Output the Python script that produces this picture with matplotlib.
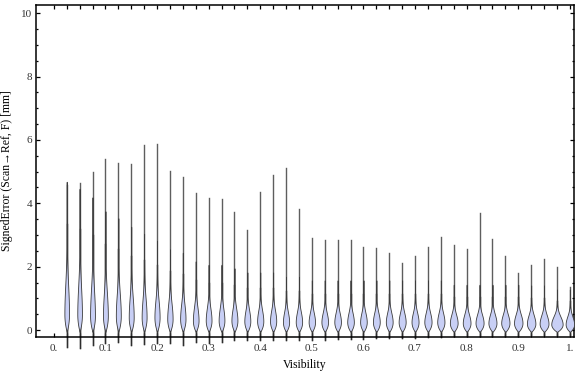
import numpy as np
import matplotlib
matplotlib.use("Agg")
import matplotlib.pyplot as plt
from matplotlib.patches import Rectangle

plt.rcParams['font.family'] = ['Liberation Serif', 'DejaVu Serif']

# visibility bins (violin centres)
visibility = [0.025, 0.05, 0.075, 0.1, 0.125, 0.15, 0.175, 0.2, 0.225, 0.25,
              0.275, 0.3, 0.325, 0.35, 0.375, 0.4, 0.425, 0.45, 0.475, 0.5,
              0.525, 0.55, 0.575, 0.6, 0.625, 0.65, 0.675, 0.7, 0.725, 0.75,
              0.775, 0.8, 0.825, 0.85, 0.875, 0.9, 0.925, 0.95, 0.975, 1.0]
# max / min signed error per bin
err_max = [4.58, 4.63, 5.00, 5.39, 5.26, 5.23, 5.84, 5.86, 5.03, 4.84,
           4.32, 4.16, 4.13, 3.72, 3.16, 4.35, 4.89, 5.10, 3.81, 2.91,
           2.84, 2.84, 2.84, 2.63, 2.58, 2.44, 2.13, 2.34, 2.61, 2.93,
           2.68, 2.55, 3.68, 2.87, 2.34, 1.79, 2.04, 2.25, 1.99, 1.37]
err_min = [-0.53, -0.58, -0.47, -0.42, -0.37, -0.47, -0.45, -0.42, -0.42, -0.47,
           -0.37, -0.42, -0.37, -0.32, -0.32, -0.32, -0.32, -0.30, -0.30, -0.30,
           -0.30, -0.28, -0.28, -0.28, -0.26, -0.26, -0.24, -0.24, -0.22, -0.22,
           -0.20, -0.20, -0.20, -0.18, -0.18, -0.18, -0.16, -0.16, -0.15, -0.15]
# density peak location, upward spread of the bulk, peak half width
err_mode = [0.50, 0.50, 0.45, 0.45, 0.45, 0.40, 0.40, 0.40, 0.35, 0.35,
            0.30, 0.30, 0.30, 0.30, 0.28, 0.28, 0.28, 0.25, 0.25, 0.25,
            0.25, 0.25, 0.25, 0.25, 0.25, 0.25, 0.25, 0.25, 0.25, 0.25,
            0.22, 0.22, 0.22, 0.22, 0.22, 0.22, 0.20, 0.20, 0.18, 0.18]
err_spread = [1.9, 1.8, 1.7, 1.5, 1.4, 1.3, 1.2, 1.1, 1.0, 0.95,
              0.85, 0.8, 0.8, 0.75, 0.7, 0.7, 0.7, 0.65, 0.65, 0.6,
              0.6, 0.6, 0.6, 0.6, 0.6, 0.6, 0.6, 0.6, 0.6, 0.6,
              0.55, 0.55, 0.55, 0.55, 0.55, 0.55, 0.55, 0.55, 0.5, 0.5]
peak_width = [0.0045, 0.0045, 0.0047, 0.0047, 0.0048, 0.0048, 0.0048, 0.005, 0.0052, 0.0052,
              0.0055, 0.0056, 0.0056, 0.0058, 0.0058, 0.006, 0.006, 0.006, 0.0062, 0.0062,
              0.0064, 0.0064, 0.0064, 0.0064, 0.0066, 0.0066, 0.0068, 0.0068, 0.007, 0.007,
              0.0075, 0.0075, 0.0078, 0.0078, 0.008, 0.0082, 0.0082, 0.0086, 0.0110, 0.0082]

fill_col = '#c8cff5'
edge_col = '#3c3c3c'

fig = plt.figure(figsize=(5.76, 3.77), dpi=100)
ax = fig.add_axes([0.0625, 0.1053, 0.934, 0.8822])
clip = Rectangle((0, -0.1), 1, 1.2, transform=ax.transAxes)

for x, top, bot, mode, spread, hw in zip(visibility, err_max, err_min,
                                         err_mode, err_spread, peak_width):
    # thin tail: lighter toward the maximum, darker near the bulk
    ln, = ax.plot([x, x], [bot, top], color='#5e5e5e', lw=1.0, zorder=2)
    ln.set_clip_path(clip)
    ln2, = ax.plot([x, x], [bot, mode + 1.5 * spread], color='#2e2e2e', lw=1.0, zorder=2)
    ln2.set_clip_path(clip)

    # bulk of the distribution
    low = -0.06
    yb = np.linspace(low, mode + 2.2 * spread, 200)
    w = np.where(yb < mode,
                 hw * (1 - ((mode - yb) / (mode - low)) ** 2),
                 hw * np.exp(-0.5 * ((yb - mode) / (spread / 2)) ** 2))
    w = np.clip(w, 0, None)
    poly = ax.fill_betweenx(yb, x - w, x + w, facecolor=fill_col,
                            edgecolor=edge_col, linewidth=0.6, zorder=3)
    poly.set_clip_path(clip)

ax.set_xlim(-0.0345, 1.008)
ax.set_ylim(-0.23, 10.27)

ax.set_xticks([0, 0.1, 0.2, 0.3, 0.4, 0.5, 0.6, 0.7, 0.8, 0.9, 1.0])
ax.set_xticklabels(['0.', '0.1', '0.2', '0.3', '0.4', '0.5', '0.6', '0.7', '0.8', '0.9', '1.'])
ax.set_xticks(np.arange(0, 1.001, 0.025), minor=True)
ax.set_yticks([0, 2, 4, 6, 8, 10])
ax.set_yticks(np.arange(0, 10.01, 0.5), minor=True)

ax.tick_params(which='both', direction='in', top=True, right=True,
               width=0.9, colors='black', labelcolor='#333333', labelsize=8)
ax.tick_params(which='major', length=3.1)
ax.tick_params(axis='y', which='major', pad=2.5)
ax.tick_params(axis='x', which='major', pad=5)
ax.tick_params(which='minor', length=1.7)
ax.tick_params(axis='x', which='minor', length=3.0)
for s in ax.spines.values():
    s.set_linewidth(1.1)

ax.set_xlabel('Visibility', fontsize=8.5, labelpad=4)
ax.set_ylabel('SignedError (Scan\u2192Ref, F) [mm]', fontsize=8.5, labelpad=6)

fig.savefig('out.png', dpi=100)
